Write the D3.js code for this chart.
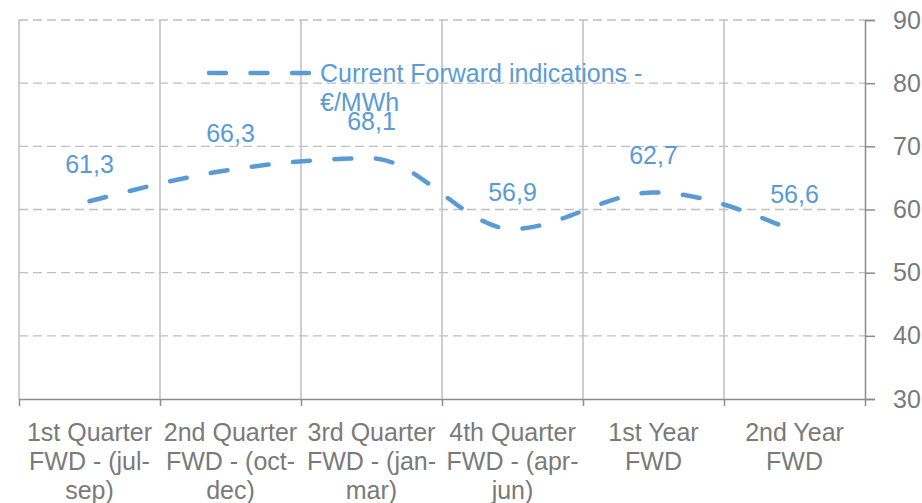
<!DOCTYPE html>
<html>
<head>
<meta charset="utf-8">
<script src="https://cdn.jsdelivr.net/npm/d3@7"></script>
<style>
  body { margin: 0; background: #fff; }
  text { font-family: "Liberation Sans", Arial, sans-serif; }
</style>
</head>
<body>
<div id="chart"></div>
<script>
var categories = [
  ["1st Quarter", "FWD - (jul-", "sep)"],
  ["2nd Quarter", "FWD - (oct-", "dec)"],
  ["3rd Quarter", "FWD - (jan-", "mar)"],
  ["4th Quarter", "FWD - (apr-", "jun)"],
  ["1st Year", "FWD"],
  ["2nd Year", "FWD"]
];
var forwardValues = [61.3, 66.3, 68.1, 56.9, 62.7, 56.6];
var yTicks = [30, 40, 50, 60, 70, 80, 90];
var seriesName = ["Current Forward indications -", "€/MWh"];

function init() {
  var width = 922, height = 503;
  var left = 19, right = 865, top = 20, bottom = 399;
  var blue = "#5b9bd5";
  var axisGrey = "#8c8c8c";
  var textGrey = "#7a7a7a";
  var fontSize = "25px";

  var svg = d3.select("#chart")
    .append("svg")
    .attr("width", width)
    .attr("height", height);

  var keys = categories.map(function(d, i) { return i; });

  var x = d3.scaleBand()
    .domain(keys)
    .range([left, right])
    .padding(0);

  var xEdge = d3.scaleLinear()
    .domain([0, categories.length])
    .range([left, right]);

  var y = d3.scaleLinear()
    .domain([30, 90])
    .range([bottom, top]);

  // horizontal dashed gridlines
  svg.append("g")
    .selectAll("line")
    .data(yTicks.filter(function(t) { return t > 30; }))
    .enter()
    .append("line")
      .attr("x1", left)
      .attr("x2", right)
      .attr("y1", function(d) { return y(d); })
      .attr("y2", function(d) { return y(d); })
      .style("stroke", "#bfbfbf")
      .style("stroke-width", 1.3)
      .style("stroke-dasharray", "9,5");

  // vertical solid gridlines at category edges
  svg.append("g")
    .selectAll("line")
    .data(d3.range(categories.length))
    .enter()
    .append("line")
      .attr("x1", function(d) { return xEdge(d); })
      .attr("x2", function(d) { return xEdge(d); })
      .attr("y1", top)
      .attr("y2", bottom)
      .style("stroke", "#bfbfbf")
      .style("stroke-width", 1.5);

  // bottom axis, ticks on the edges
  var xAxis = d3.axisBottom(xEdge)
    .tickValues(d3.range(categories.length + 1))
    .tickFormat("")
    .tickSize(7)
    .tickSizeOuter(0);

  var gx = svg.append("g")
    .attr("transform", "translate(0," + bottom + ")")
    .call(xAxis);
  gx.selectAll("path, line").style("stroke", axisGrey).style("stroke-width", 1.5);

  // category labels, centred in each band
  var labels = svg.append("g")
    .selectAll("text")
    .data(categories)
    .enter()
    .append("text")
      .attr("x", function(d, i) { return x(i) + x.bandwidth() / 2; })
      .attr("y", 441)
      .attr("text-anchor", "middle")
      .style("font-size", fontSize)
      .style("fill", textGrey);

  labels.selectAll("tspan")
    .data(function(d) { return d; })
    .enter()
    .append("tspan")
      .attr("x", function() { return d3.select(this.parentNode).attr("x"); })
      .attr("dy", function(d, i) { return i === 0 ? 0 : 29; })
      .text(function(d) { return d; });

  // right value axis
  var yAxis = d3.axisRight(y)
    .tickValues(yTicks)
    .tickSize(10)
    .tickPadding(18)
    .tickSizeOuter(10);

  var gy = svg.append("g")
    .attr("transform", "translate(" + right + ",0)")
    .call(yAxis);
  gy.selectAll("path, line").style("stroke", axisGrey).style("stroke-width", 1.5);
  gy.selectAll("text")
    .style("font-size", fontSize)
    .style("fill", textGrey)
    .style("font-family", "'Liberation Sans', Arial, sans-serif");

  // smoothed dashed series line
  var line = d3.line()
    .x(function(d, i) { return x(i) + x.bandwidth() / 2; })
    .y(function(d) { return y(d); })
    .curve(d3.curveMonotoneX);

  svg.append("path")
    .datum(forwardValues)
    .attr("d", line)
    .style("fill", "none")
    .style("stroke", blue)
    .style("stroke-width", 4.5)
    .style("stroke-linecap", "round")
    .style("stroke-dasharray", "17,24.5");

  // value labels
  svg.append("g")
    .selectAll("text")
    .data(forwardValues)
    .enter()
    .append("text")
      .attr("x", function(d, i) { return x(i) + x.bandwidth() / 2; })
      .attr("y", function(d) { return y(d) - 28; })
      .attr("text-anchor", "middle")
      .style("font-size", fontSize)
      .style("fill", blue)
      .text(function(d) { return d3.format(".1f")(d).replace(".", ","); });

  // legend
  var legend = svg.append("g");
  legend.append("line")
    .attr("x1", 209)
    .attr("x2", 309)
    .attr("y1", 73)
    .attr("y2", 73)
    .style("stroke", blue)
    .style("stroke-width", 4.5)
    .style("stroke-linecap", "round")
    .style("stroke-dasharray", "17,24.5");

  legend.append("text")
    .attr("x", 320)
    .attr("y", 82)
    .style("font-size", fontSize)
    .style("fill", blue)
    .selectAll("tspan")
    .data(seriesName)
    .enter()
    .append("tspan")
      .attr("x", 320)
      .attr("dy", function(d, i) { return i === 0 ? 0 : 29; })
      .text(function(d) { return d; });
}

window.onload = init;
</script>
</body>
</html>
